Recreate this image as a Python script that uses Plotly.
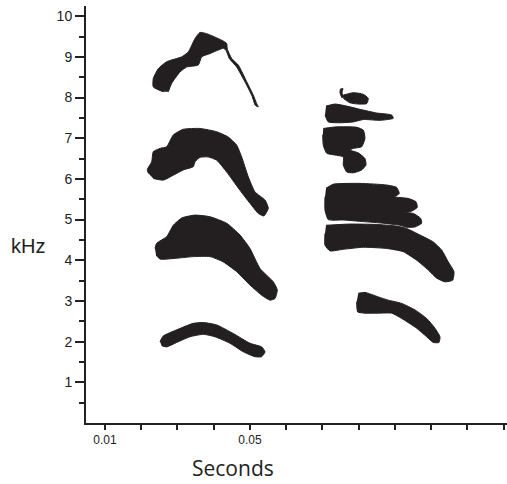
import plotly.graph_objects as go

# Outline vertices of each sound element: time in milliseconds, frequency in kHz
h4_ms = [26.08, 23.32, 23.32, 24.70, 27.02, 31.16, 32.98, 34.83, 36.21, 38.06, 42.19, 43.57, 43.74,
         44.95, 46.77, 49.09, 50.91, 51.85, 52.29, 51.46, 50.55, 48.70, 46.33, 44.29, 43.38, 42.63,
         38.97, 36.68, 35.74, 32.54, 30.69, 28.40, 27.46]
h4_khz = [8.14, 8.26, 8.47, 8.71, 8.88, 9.00, 9.12, 9.45, 9.60, 9.57, 9.41, 9.33, 9.19,
          8.96, 8.80, 8.39, 8.06, 7.85, 7.77, 7.81, 8.04, 8.37, 8.75, 8.96, 9.16, 9.21,
          9.08, 9.00, 8.80, 8.75, 8.63, 8.35, 8.14]

h3_ms = [21.94, 21.67, 22.88, 23.32, 25.17, 27.02, 28.84, 31.60, 36.21, 40.81, 44.01, 46.33, 47.71,
         49.53, 51.38, 54.14, 55.05, 53.86, 52.29, 50.00, 47.24, 43.57, 40.81, 38.50, 36.21, 34.83,
         34.36, 31.60, 28.84, 26.08, 23.32]
h3_khz = [6.14, 6.23, 6.42, 6.67, 6.75, 6.79, 7.08, 7.22, 7.24, 7.16, 7.03, 6.83, 6.54,
          6.05, 5.68, 5.48, 5.28, 5.09, 5.15, 5.40, 5.72, 6.17, 6.46, 6.54, 6.53, 6.42,
          6.30, 6.22, 6.09, 5.97, 6.01]

h2_ms = [23.79, 24.26, 27.02, 28.84, 31.16, 34.83, 38.97, 43.57, 47.24, 50.00, 52.76, 56.43, 57.53,
         56.90, 55.52, 53.23, 50.00, 46.33, 42.63, 38.97, 34.36, 29.78, 25.17, 24.07]
h2_khz = [4.29, 4.42, 4.58, 4.86, 5.04, 5.11, 5.07, 4.91, 4.62, 4.29, 3.80, 3.47, 3.27,
          3.06, 3.02, 3.14, 3.39, 3.72, 3.96, 4.09, 4.09, 4.05, 4.03, 4.13]

h1_ms = [25.17, 26.08, 29.78, 34.36, 37.12, 40.81, 45.39, 50.00, 53.23, 54.14, 53.23, 51.38, 48.15,
         44.48, 40.34, 37.12, 33.45, 29.78, 27.02, 25.64]
h1_khz = [2.00, 2.14, 2.29, 2.45, 2.47, 2.41, 2.20, 1.96, 1.87, 1.75, 1.63, 1.63, 1.75,
          1.96, 2.12, 2.18, 2.12, 1.98, 1.87, 1.90]

hook_ms = [75.38, 74.83, 74.97, 75.66, 75.52, 75.38, 75.93]
hook_khz = [7.99, 8.11, 8.21, 8.22, 8.17, 8.11, 8.01]

top_ms = [75.74, 78.50, 81.26, 82.63, 82.19, 79.88, 77.59, 75.74]
top_khz = [8.06, 8.12, 8.08, 7.98, 7.85, 7.84, 7.87, 7.98]

band_ms = [70.97, 73.45, 76.68, 80.34, 84.95, 89.09, 89.53, 85.86, 81.26, 78.50, 74.83, 71.60, 70.69]
band_khz = [7.79, 7.84, 7.79, 7.71, 7.62, 7.57, 7.49, 7.44, 7.46, 7.40, 7.38, 7.40, 7.57]

lobe_ms = [70.22, 73.92, 79.43, 81.26, 81.72, 80.81, 78.50, 77.59, 79.88, 81.72, 82.00, 80.81, 78.50,
           76.68, 75.74, 75.74, 73.92, 71.16, 70.22, 70.06]
lobe_khz = [7.24, 7.28, 7.27, 7.20, 7.00, 6.79, 6.75, 6.71, 6.64, 6.50, 6.34, 6.22, 6.15,
            6.17, 6.34, 6.54, 6.58, 6.63, 6.83, 7.08]

upper_ms = [70.97, 72.98, 80.34, 87.71, 90.47, 91.19, 90.00, 93.67, 95.79, 96.15, 94.14, 92.29,
            95.05, 97.09, 97.36, 95.52, 93.23, 91.38, 86.77, 81.26, 75.74, 71.60, 70.69, 70.69]
upper_khz = [5.77, 5.87, 5.89, 5.85, 5.79, 5.64, 5.56, 5.52, 5.44, 5.30, 5.19, 5.18,
             5.15, 5.03, 4.91, 4.82, 4.81, 4.86, 4.91, 4.95, 4.99, 5.00, 5.23, 5.56]

lower_ms = [70.97, 77.59, 84.95, 90.47, 93.23, 96.90, 100.57, 102.88, 104.70, 106.28, 105.92, 103.79,
            101.50, 99.19, 95.99, 92.29, 87.71, 81.26, 75.74, 72.07, 70.69, 70.69]
lower_khz = [4.86, 4.89, 4.88, 4.84, 4.78, 4.62, 4.45, 4.25, 3.96, 3.72, 3.51, 3.47,
             3.56, 3.76, 4.00, 4.21, 4.29, 4.32, 4.27, 4.23, 4.37, 4.66]

tail_ms = [79.88, 81.72, 85.39, 88.15, 91.85, 95.52, 98.74, 101.03, 102.41, 102.14, 100.57, 98.74,
           95.99, 91.85, 89.09, 85.39, 81.72, 79.71, 79.43]
tail_khz = [3.19, 3.21, 3.10, 3.02, 2.94, 2.78, 2.57, 2.33, 2.12, 1.98, 1.98, 2.12,
            2.33, 2.57, 2.70, 2.70, 2.70, 2.73, 2.98]

elements = [(h4_ms, h4_khz), (h3_ms, h3_khz), (h2_ms, h2_khz), (h1_ms, h1_khz),
            (hook_ms, hook_khz), (top_ms, top_khz), (band_ms, band_khz), (lobe_ms, lobe_khz),
            (upper_ms, upper_khz), (lower_ms, lower_khz), (tail_ms, tail_khz)]

x_ticks = [0.01, 0.02, 0.03, 0.04, 0.05, 0.06, 0.07, 0.08, 0.09, 0.10, 0.11, 0.12]
x_labels = ["0.01", "", "", "", "0.05", "", "", "", "", "", "", ""]
y_ticks = [1, 2, 3, 4, 5, 6, 7, 8, 9, 10]
y_minor = [0.5, 1.5, 2.5, 3.5, 4.5, 5.5, 6.5, 7.5, 8.5, 9.5]

ink = "#231f20"
fig = go.Figure()
for ms, khz in elements:
    fig.add_trace(go.Scatter(
        x=[t / 1000 for t in ms], y=khz, mode="lines", fill="toself",
        fillcolor=ink, line=dict(color=ink, width=1, shape="spline", smoothing=0.5),
        hoverinfo="skip", showlegend=False))

axis_font = dict(family="Liberation Sans, Arial, sans-serif", color="#222")
fig.update_layout(
    width=507, height=484,
    margin=dict(l=86, r=0, t=6, b=61),
    paper_bgcolor="white", plot_bgcolor="white",
    xaxis=dict(range=[0.00476, 0.1209], showgrid=False, zeroline=False,
               showline=True, linecolor="#222", linewidth=2,
               tickmode="array", tickvals=x_ticks, ticktext=x_labels,
               ticks="outside", ticklen=5, tickwidth=1.5, tickcolor="#222",
               tickfont=dict(size=12, **axis_font)),
    yaxis=dict(range=[0, 10.25], showgrid=False, zeroline=False,
               showline=True, linecolor="#222", linewidth=2,
               tickmode="array", tickvals=y_ticks,
               ticks="outside", ticklen=9, tickwidth=1.5, tickcolor="#222",
               tickfont=dict(size=14, **axis_font),
               minor=dict(tickmode="array", tickvals=y_minor, ticks="outside",
                          ticklen=5, tickwidth=1.5, tickcolor="#222", showgrid=False)),
    annotations=[
        dict(text="kHz", xref="paper", yref="paper", x=-0.138, y=0.424,
             xanchor="center", yanchor="middle", showarrow=False,
             font=dict(size=20, family="Liberation Sans, Arial, sans-serif", color="#222")),
        dict(text="Seconds", xref="paper", yref="paper", x=0.349, y=-0.108,
             xanchor="center", yanchor="middle", showarrow=False,
             font=dict(size=21, family="Open Sans, sans-serif", color="#222")),
    ],
)

fig.write_html("out.html")
